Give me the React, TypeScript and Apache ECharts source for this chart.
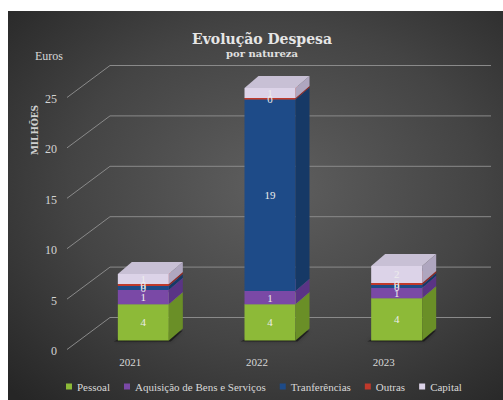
import React, { useEffect, useRef } from "react";
import * as echarts from "echarts";

const categories = ["2021", "2022", "2023"];
const seriesNames = ["Pessoal", "Aquisição de Bens e Serviços", "Tranferências", "Outras", "Capital"];
const pessoal = [3.6, 3.6, 4.2];
const aquisicao = [1.4, 1.3, 1.0];
const transferencias = [0.4, 19.0, 0.3];
const outras = [0.2, 0.15, 0.2];
const capital = [1.0, 1.0, 1.7];
const yTicks = [0, 5, 10, 15, 20, 25];

const seriesValues = [pessoal, aquisicao, transferencias, outras, capital];
const faceColors = [
  { front: "#8DBA38", side: "#6A8F27", top: "#A6CC5E" },
  { front: "#7A49A6", side: "#5A3485", top: "#9471BB" },
  { front: "#1E4B88", side: "#163966", top: "#2D5D9C" },
  { front: "#C0392B", side: "#8F2A20", top: "#D05A4E" },
  { front: "#DCD3E8", side: "#AFA6BF", top: "#C8C0D5" },
];

const SERIF = "Liberation Serif";
const SERIF2 = "DejaVu Serif";
const BAR_W = 51;
const DX = 14;
const DY = 12;

export default function App() {
  const ref = useRef<HTMLDivElement>(null);
  useEffect(() => {
    if (!ref.current) return;
    const chart = echarts.init(ref.current, null, { renderer: "svg" });

    const bases: number[][] = seriesValues.map((_, si) =>
      categories.map((_, ci) => {
        let s = 0;
        for (let k = 0; k < si; k++) s += seriesValues[k][ci];
        return s;
      })
    );

    const barSeries = seriesValues.map((vals, si) => ({
      name: seriesNames[si],
      type: "custom",
      z: 2,
      itemStyle: { color: faceColors[si].front },
      encode: { x: 0, y: 1 },
      data: vals.map((v, ci) => [ci, bases[si][ci], v]),
      renderItem: (params: any, api: any) => {
        const ci = api.value(0);
        const base = api.value(1);
        const v = api.value(2);
        const pb = api.coord([ci, base]);
        const pt = api.coord([ci, base + v]);
        const cx = pb[0];
        const yb = pb[1];
        const yt = pt[1];
        const x0 = cx - BAR_W / 2;
        const x1 = cx + BAR_W / 2;
        const c = faceColors[si];
        const children: any[] = [];
        if (si === 0) {
          children.push({
            type: "polygon",
            shape: { points: [[x0 - 4, yb + 1], [x1 + 2, yb + 1], [x1 + DX, yb - DY + 2], [x0 + 6, yb - 4]] },
            style: { fill: "rgba(0,0,0,0.45)", shadowBlur: 4, shadowColor: "rgba(0,0,0,0.6)" },
          });
        }
        children.push(
          {
            type: "rect",
            shape: { x: x0, y: yt, width: BAR_W, height: yb - yt },
            style: { fill: c.front },
          },
          {
            type: "polygon",
            shape: { points: [[x1, yb], [x1 + DX, yb - DY], [x1 + DX, yt - DY], [x1, yt]] },
            style: { fill: c.side },
          },
          {
            type: "polygon",
            shape: { points: [[x0, yt], [x1, yt], [x1 + DX, yt - DY], [x0 + DX, yt - DY]] },
            style: { fill: c.top },
          },
          {
            type: "text",
            z2: 100,
            style: {
              text: String(Math.round(v)),
              x: cx,
              y: (yt + yb) / 2,
              align: "center",
              verticalAlign: "middle",
              fill: "#ECECEC",
              fontSize: 11,
              fontFamily: SERIF,
            },
          }
        );
        return { type: "group", children };
      },
    }));

    const gridSeries = {
      name: "grid3d",
      type: "custom",
      z: 1,
      silent: true,
      encode: { x: 0, y: 1 },
      data: yTicks.map((v) => [0, v]),
      renderItem: (params: any, api: any) => {
        const v = api.value(1);
        const y = api.coord([0, v])[1];
        return {
          type: "group",
          children: [
            {
              type: "polyline",
              shape: { points: [[59, y + 9], [102, y - 23], [483, y - 23]] },
              style: { stroke: "#8A8A8A", lineWidth: 1, fill: "none" },
            },
            {
              type: "text",
              style: {
                text: String(v),
                x: 49,
                y: y + 10.5,
                align: "right",
                verticalAlign: "middle",
                fill: "#D4D4D4",
                fontSize: 12,
                fontFamily: SERIF,
              },
            },
          ],
        };
      },
    };

    chart.setOption({
      animation: false,
      graphic: [
        {
          type: "rect",
          z: -100,
          shape: { x: 0, y: 0, width: 495, height: 389 },
          style: {
            fill: new echarts.graphic.RadialGradient(0.54, 0.45, 0.75, [
              { offset: 0, color: "#5F5F5F" },
              { offset: 0.55, color: "#444444" },
              { offset: 1, color: "#262626" },
            ]),
          },
        },
        {
          type: "text",
          x: 254,
          y: 28,
          style: {
            text: "Evolução Despesa",
            align: "center",
            verticalAlign: "middle",
            fill: "#E6E6E6",
            fontSize: 14,
            fontWeight: "bold",
            fontFamily: SERIF2,
          },
        },
        {
          type: "text",
          x: 254,
          y: 42,
          style: {
            text: "por natureza",
            align: "center",
            verticalAlign: "middle",
            fill: "#E0E0E0",
            fontSize: 10,
            fontWeight: "bold",
            fontFamily: SERIF2,
          },
        },
        {
          type: "text",
          x: 27,
          y: 45,
          style: {
            text: "Euros",
            align: "left",
            verticalAlign: "middle",
            fill: "#D8D8D8",
            fontSize: 12,
            fontFamily: SERIF,
          },
        },
        {
          type: "text",
          x: 27,
          y: 119,
          rotation: Math.PI / 2,
          style: {
            text: "MILHÕES",
            align: "center",
            verticalAlign: "middle",
            fill: "#D0D0D0",
            fontSize: 9,
            fontWeight: "bold",
            fontFamily: SERIF2,
          },
        },
      ],
      legend: {
        data: seriesNames,
        left: 58,
        top: 370,
        padding: 0,
        itemWidth: 6,
        itemHeight: 6,
        itemGap: 14,
        icon: "rect",
        textStyle: { color: "#D8D8D8", fontSize: 11, fontFamily: SERIF },
      },
      grid: { left: 72, right: 43, top: 77.5, bottom: 59.5, containLabel: false },
      xAxis: {
        type: "category",
        data: categories,
        axisLine: { show: false },
        axisTick: { show: false },
        axisLabel: {
          margin: 16,
          padding: [0, 26, 0, 0],
          color: "#D8D8D8",
          fontSize: 11,
          fontFamily: SERIF,
        },
      },
      yAxis: {
        type: "value",
        min: 0,
        max: 25,
        interval: 5,
        axisLine: { show: false },
        axisTick: { show: false },
        axisLabel: { show: false },
        splitLine: { show: false },
      },
      series: [gridSeries, ...barSeries],
    });

    return () => chart.dispose();
  }, []);

  return (
    <div
      ref={ref}
      style={{ position: "absolute", left: 8, top: 11, width: 495, height: 389 }}
    />
  );
}
